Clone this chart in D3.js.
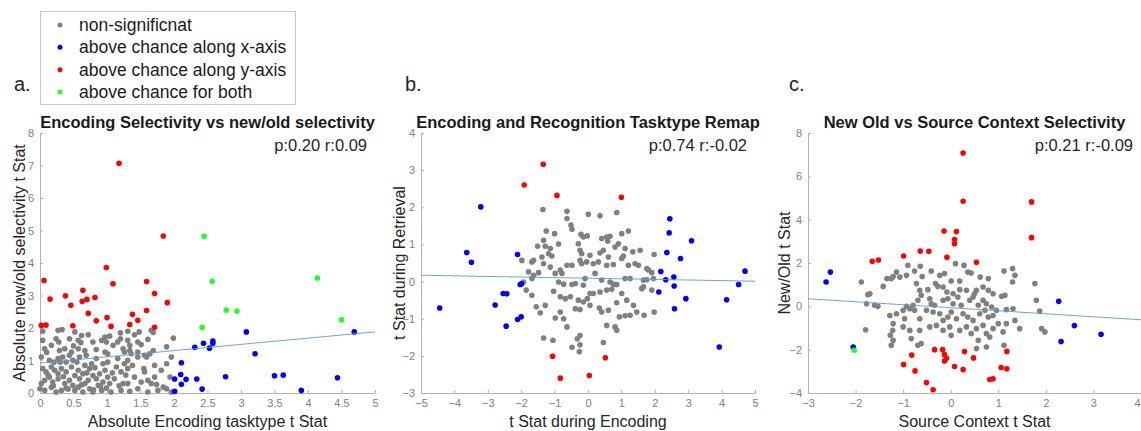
<!DOCTYPE html>
<html><head><meta charset="utf-8">
<script src="https://cdn.jsdelivr.net/npm/d3@7"></script>
<style>
body{margin:0;background:#fff;}
svg{display:block;font-family:"Liberation Sans",Arial,sans-serif;}
</style></head><body>
<svg id="chart" width="1141" height="431"></svg>
<script>
// ---------- DATA ----------
const legendLabels = ["non-significnat","above chance along x-axis","above chance along y-axis","above chance for both"];
const panelLetters = ["a.","b.","c."];
const titles = ["Encoding Selectivity vs new/old selectivity","Encoding and Recognition Tasktype Remap","New Old vs Source Context Selectivity"];
const statTexts = ["p:0.20 r:0.09","p:0.74 r:-0.02","p:0.21 r:-0.09"];
const xLabels = ["Absolute Encoding tasktype t Stat","t Stat during Encoding","Source Context t Stat"];
const yLabels = ["Absolute new/old selectivity t Stat","t Stat during Retrieval","New/Old t Stat"];
const xTicksA = [0,0.5,1,1.5,2,2.5,3,3.5,4,4.5,5];
const yTicksA = [0,1,2,3,4,5,6,7,8];
const xTicksB = [-5,-4,-3,-2,-1,0,1,2,3,4,5];
const yTicksB = [-3,-2,-1,0,1,2,3,4];
const xTicksC = [-3,-2,-1,0,1,2,3,4];
const yTicksC = [-4,-2,0,2,4,6,8];
// fitted line end points [x0,y0,x1,y1]
const fitA = [0,0.92,5,1.88];
const fitB = [-5,0.17,5,0.01];
const fitC = [-3,0.35,4,-0.62];

const aRed = [[1.18,7.07],[1.84,4.83],[0.99,3.86],[0.06,3.46],[1.09,3.36],[1.59,3.43],[0.38,2.99],[0.64,3.16],[0.15,2.89],[0.46,2.70],[0.63,2.82],[0.70,2.88],[0.82,2.94],[1.71,3.06],[1.90,2.78],[0.72,2.45],[1.59,2.54],[1.38,2.42],[0.84,2.22],[1.00,2.32],[1.46,2.24],[0.02,2.08],[0.09,2.09],[0.49,2.07],[1.06,2.05],[1.34,2.11],[1.71,2.02]];
const aGreen = [[2.45,4.82],[2.57,3.44],[4.14,3.54],[2.78,2.55],[2.94,2.52],[4.50,2.25],[2.42,2.02]];
const aBlue = [[4.69,1.88],[3.08,1.88],[2.44,1.53],[2.58,1.60],[2.58,1.53],[2.31,1.41],[2.53,1.38],[3.21,1.21],[2.11,0.93],[2.77,0.50],[3.50,0.53],[3.63,0.55],[4.44,0.47],[2.10,0.57],[2.01,0.43],[2.18,0.42],[2.34,0.43],[2.11,0.27],[2.42,0.12],[3.90,0.08],[2.01,0.05]];
const aGray = [[0.04,1.90],[0.27,1.93],[0.33,1.95],[0.52,1.88],[0.62,1.77],[0.72,1.79],[0.97,1.72],[1.04,1.75],[1.31,1.90],[1.41,1.79],[1.66,1.93],[1.69,1.86],[1.99,1.69],
[0.04,1.62],[0.24,1.67],[0.28,1.57],[0.44,1.67],[0.57,1.62],[0.61,1.55],[0.79,1.57],[0.92,1.62],[0.99,1.57],[1.16,1.57],[1.20,1.67],[1.31,1.62],[1.34,1.47],[1.46,1.57],[1.51,1.49],[1.61,1.65],[1.89,1.42],
[0.07,1.36],[0.17,1.47],[0.29,1.31],[0.37,1.36],[0.47,1.26],[0.57,1.36],[0.67,1.31],[0.69,1.16],[0.84,1.34],[0.97,1.26],[1.01,1.21],[1.09,1.47],[1.24,1.36],[1.26,1.26],[1.34,1.31],[1.36,1.21],[1.46,1.26],[1.56,1.16],[1.64,1.21],[1.69,1.31],[1.96,1.11],
[0.02,1.11],[0.14,1.01],[0.21,0.95],[0.27,1.06],[0.34,1.11],[0.39,0.95],[0.44,1.16],[0.49,1.01],[0.59,1.11],[0.67,0.85],[0.77,0.90],[0.84,1.06],[0.94,0.90],[1.01,0.95],[1.16,1.06],[1.26,0.90],[1.31,1.01],[1.46,1.11],[1.59,1.11],[1.71,0.85],[1.89,0.90],
[0.04,0.75],[0.09,0.65],[0.17,0.80],[0.22,0.70],[0.27,0.59],[0.32,0.75],[0.39,0.65],[0.47,0.80],[0.52,0.54],[0.57,0.70],[0.64,0.59],[0.74,0.75],[0.79,0.54],[0.89,0.59],[0.97,0.70],[1.01,0.49],[1.14,0.80],[1.21,0.65],[1.31,0.75],[1.41,0.49],[1.56,0.65],[1.71,0.49],[1.81,0.70],[1.94,0.49],
[0.02,0.29],[0.07,0.39],[0.14,0.49],[0.19,0.34],[0.27,0.44],[0.37,0.29],[0.44,0.39],[0.49,0.24],[0.59,0.44],[0.67,0.29],[0.72,0.39],[0.84,0.44],[0.87,0.24],[0.94,0.34],[1.04,0.29],[1.11,0.44],[1.24,0.29],[1.31,0.29],[1.51,0.34],[1.61,0.39],[1.66,0.29],[1.74,0.26],[1.84,0.18],
[0.00,0.13],[0.07,0.08],[0.17,0.18],[0.24,0.03],[0.32,0.08],[0.39,0.15],[0.52,0.08],[0.57,0.18],[0.64,0.03],[0.74,0.13],[0.79,0.03],[0.92,0.08],[0.99,0.15],[1.06,0.03],[1.21,0.08],[1.34,0.05],[1.46,0.13],[1.61,0.03],[1.76,0.08],[1.89,0.13],[1.96,0.03],
[0.12,0.55],[0.20,0.22],[0.30,0.95],[0.35,0.50],[0.42,0.12],[0.55,0.95],[0.62,0.25],[0.70,0.62],[0.82,0.78],[0.90,0.20],[1.08,0.62],[1.18,0.22],[1.28,0.55],[1.38,0.85],[1.55,0.75],[0.10,1.25],[0.50,1.45],[0.80,0.10],[1.20,1.85],[1.48,1.88]];

const bRed = [[-1.34,3.16],[-1.91,2.60],[-0.93,2.32],[1.00,2.27],[-1.06,-2.01],[0.52,-2.05],[-0.83,-2.60],[0.04,-2.53]];
const bGreen = [];
const bBlue = [[-3.21,2.01],[-3.63,0.78],[-3.49,0.52],[-4.44,-0.71],[-2.11,0.73],[-2.03,-0.08],[-1.99,-0.06],[-2.54,-0.32],[-2.43,-0.33],[-2.78,-0.63],[-2.11,-1.02],[-2.00,-0.95],[-2.45,-1.20],
[2.45,1.69],[2.43,1.31],[3.10,1.10],[2.36,0.78],[2.77,0.62],[2.18,0.27],[2.33,0.05],[2.57,0.12],[2.58,-0.12],[2.12,-0.28],[2.93,-0.46],[2.59,-0.73],[3.93,-1.76],[4.15,-0.49],[4.51,-0.08],[4.70,0.28]];
const bGray = [[-1.35,1.94],[-0.63,1.89],[-0.63,1.70],[0.01,1.81],[0.36,1.77],[0.86,1.86],[-0.51,1.52],[-0.48,1.41],
[-1.25,1.36],[-1.00,1.29],[-0.21,1.27],[-0.14,1.20],[-0.02,1.23],[0.41,1.16],[0.56,1.20],[0.66,1.22],[0.59,1.09],[0.91,1.02],[1.01,1.29],[1.21,1.36],
[-1.51,0.95],[-1.33,1.11],[-1.28,0.95],[-1.13,0.89],[-1.18,0.75],[-0.88,1.01],[-1.38,0.66],[-1.08,0.69],[-0.29,1.02],[-0.24,0.84],[-0.19,0.75],[0.06,0.71],[0.36,0.77],[0.46,0.84],[0.61,0.66],[0.81,0.93],[1.11,0.89],[1.34,0.80],[1.56,0.84],[1.98,0.73],
[-1.98,0.57],[-1.68,0.53],[-1.63,0.57],[-1.33,0.48],[-1.13,0.39],[-0.83,0.31],[-0.78,0.22],[-0.63,0.44],[-0.48,0.44],[-0.24,0.57],[-0.19,0.48],[-0.04,0.53],[0.16,0.48],[0.31,0.53],[0.56,0.44],[0.76,0.46],[1.01,0.62],[1.06,0.69],[1.21,0.44],[1.41,0.48],[1.51,0.44],[1.76,0.35],[1.81,0.31],[1.91,0.24],
[-1.78,0.26],[-1.63,0.17],[-1.68,0.08],[-1.48,0.24],[-0.98,0.22],[-0.88,-0.01],[-0.73,-0.07],[-0.48,-0.08],[-0.38,-0.05],[-0.14,-0.10],[-0.09,0.08],[0.21,0.22],[0.41,0.04],[0.66,-0.01],[0.76,-0.07],[0.86,-0.08],[1.11,0.08],[1.26,0.08],[1.66,0.04],[1.76,0.05],[1.96,0.08],
[-1.93,-0.01],[-1.85,-0.23],[-1.68,-0.37],[-1.28,-0.64],[-1.03,-0.26],[-0.83,-0.41],[-0.68,-0.46],[-0.53,-0.41],[-0.38,-0.73],[-0.24,-0.75],[-0.14,-0.55],[-0.02,-0.46],[0.06,-0.32],[0.16,-0.32],[0.36,-0.28],[0.56,-0.23],[0.71,-0.21],[0.86,-0.57],[1.01,-0.32],[1.16,-0.50],[1.36,-0.64],[1.61,-0.19],[1.66,-0.14],[1.91,-0.23],
[-1.55,-0.68],[-1.43,-0.84],[-0.98,-0.98],[-0.83,-0.82],[-0.73,-1.00],[-0.63,-1.22],[-0.29,-0.50],[0.06,-0.64],[0.34,-0.71],[0.41,-0.82],[0.61,-0.77],[0.56,-1.18],[0.81,-1.22],[0.86,-1.31],[0.94,-0.95],[1.11,-0.92],[1.26,-0.91],[1.46,-0.82],[1.68,-0.91],[1.98,-0.82],
[-1.33,-1.52],[-1.05,-1.58],[-0.48,-1.77],[-0.32,-1.54],[-0.24,-1.45],[-0.24,-1.70],[-0.26,-1.89],[0.46,-1.64]];

const cRed = [[0.26,7.08],[0.26,4.85],[1.70,4.82],[1.70,3.17],[-0.14,3.48],[0.12,3.45],[0.08,3.08],[0.08,2.89],[-0.64,2.55],[-0.46,2.54],[-0.99,2.32],[-0.08,2.26],[0.54,2.03],[-1.65,2.08],[-1.52,2.14],
[-0.17,-2.00],[-0.34,-2.00],[0.29,-2.09],[-0.82,-2.25],[-0.13,-2.23],[-0.09,-2.40],[-0.13,-2.52],[0.48,-2.38],[1.18,-2.08],[-0.99,-2.69],[0.08,-2.78],[0.26,-2.92],[-0.75,-2.98],[1.06,-2.82],[1.18,-2.88],[-0.51,-3.52],[-0.37,-3.85],[0.82,-3.38],[0.89,-3.34]];
const cGreen = [[-2.03,-2.03]];
const cBlue = [[-2.53,1.58],[-2.62,1.12],[-2.05,-1.88],[2.27,0.23],[2.60,-0.89],[2.32,-1.62],[3.16,-1.29]];
const cGray = [[-0.90,1.89],[-0.64,1.85],[0.10,1.97],[0.28,1.89],[-1.14,1.58],[-0.93,1.43],[-0.76,1.63],[-0.60,1.38],[-0.41,1.63],[-0.23,1.43],[-0.13,1.51],[0.01,1.17],[0.19,1.17],[0.36,1.58],[0.43,1.54],[0.62,1.35],[0.79,1.28],[1.12,1.63],[1.30,1.74],[1.35,1.43],[1.30,1.12],[1.77,1.05],[-1.88,1.12],
[-1.42,0.92],[-1.25,1.28],[-1.21,1.38],[-1.07,1.35],[-0.72,1.05],[-0.65,0.74],[-0.48,0.77],[-0.32,1.05],[-0.27,0.92],[-0.16,0.89],[-0.08,0.66],[0.05,0.58],[0.19,0.77],[0.33,0.74],[0.50,0.58],[0.54,0.74],[0.68,0.89],[0.79,0.74],[0.89,0.58],[1.07,0.46],[1.14,0.51],[-1.70,0.58],
[-1.77,0.12],[-1.60,0.05],[-1.53,0.00],[-0.93,0.00],[-0.86,-0.11],[-0.79,0.05],[-0.69,0.28],[-0.62,0.51],[-0.44,0.35],[-0.41,0.12],[-0.34,0.05],[-0.16,0.28],[-0.06,0.35],[0.05,0.12],[0.15,0.43],[0.22,0.05],[0.40,0.28],[0.47,0.43],[0.58,0.05],[0.68,0.28],[0.75,0.12],[0.86,-0.03],[0.96,-0.18],[1.17,-0.15],[1.31,-0.11],[1.80,0.28],[1.87,-0.22],
[-1.28,-0.42],[-1.21,-0.80],[-1.14,-0.34],[-1.00,-0.18],[-0.97,-0.57],[-0.76,-0.18],[-0.65,-0.57],[-0.51,-0.18],[-0.37,-0.26],[-0.23,-0.34],[-0.16,-0.65],[-0.06,-0.49],[0.01,-0.26],[0.12,-0.57],[0.26,-0.34],[0.36,-0.49],[0.47,-0.65],[0.61,-0.34],[0.72,-0.18],[0.79,-0.49],[0.89,-0.42],[1.00,-0.80],[1.17,-0.80],[1.35,-0.65],[1.45,-1.03],[1.91,-1.03],[1.98,-1.18],
[-1.79,-1.08],[-1.21,-1.57],[-1.25,-1.80],[-1.00,-0.95],[-0.86,-1.11],[-0.83,-1.49],[-0.65,-1.11],[-0.69,-1.80],[-0.62,-1.72],[-0.44,-0.95],[-0.30,-0.88],[-0.16,-1.11],[-0.02,-0.95],[0.01,-1.34],[0.19,-1.11],[0.33,-0.95],[0.43,-1.26],[0.54,-1.03],[0.58,-1.57],[0.68,-0.88],[0.75,-1.26],[0.82,-1.42],[0.89,-1.03],[1.10,-1.18],[1.12,-1.80],[0.54,-1.95],[0.75,-1.88],
[-1.74,0.54],[-1.34,1.28],[-1.27,-1.34],[-1.22,-1.11]];

// ---------- STYLE / LAYOUT ----------
const COL = {gray:"#808080", blue:"#0000ff", red:"#ff0000", green:"#22ff22", fit:"#5a9fd6"};
const R = 2.8;
const svg = d3.select("#chart");
const font = "'Liberation Sans',Arial,sans-serif";

const panels = [
  {x0:40, x1:375, y0:133, y1:393, xd:[0,5], yd:[0,8], xt:xTicksA, yt:yTicksA, fit:fitA,
   gray:aGray, blue:aBlue, red:aRed, green:aGreen, ylx:19},
  {x0:421, x1:755, y0:133, y1:393, xd:[-5,5], yd:[-3,4], xt:xTicksB, yt:yTicksB, fit:fitB,
   gray:bGray, blue:bBlue, red:bRed, green:bGreen, ylx:399},
  {x0:808, x1:1141, y0:133, y1:393, xd:[-3,4], yd:[-4,8], xt:xTicksC, yt:yTicksC, fit:fitC,
   gray:cGray, blue:cBlue, red:cRed, green:cGreen, ylx:784}
];
const letterX = [14, 405, 789];

panels.forEach((p,i)=>{
  const x = d3.scaleLinear().domain(p.xd).range([p.x0,p.x1]);
  const y = d3.scaleLinear().domain(p.yd).range([p.y1,p.y0]);
  const g = svg.append("g");

  const xa = g.append("g").attr("transform",`translate(0,${p.y1})`)
    .call(d3.axisBottom(x).tickValues(p.xt).tickSizeInner(-3).tickSizeOuter(0).tickPadding(6).tickFormat(d3.format("~g")));
  const ya = g.append("g").attr("transform",`translate(${p.x0},0)`)
    .call(d3.axisLeft(y).tickValues(p.yt).tickSizeInner(-3).tickSizeOuter(0).tickPadding(6).tickFormat(d3.format("~g")));
  [xa,ya].forEach(a=>{
    a.select(".domain").attr("stroke","#b3b3b3");
    a.selectAll(".tick line").attr("stroke","#b3b3b3");
    a.selectAll(".tick text").attr("fill","#808080").style("font-size","11px").style("font-family",font);
  });
  // keep a tick label that would run past the page edge inside it
  xa.selectAll(".tick text").filter(d=>x(d)>1134).attr("text-anchor","end").attr("dx","-1");

  const dots = (arr,c)=> g.append("g").selectAll("circle").data(arr).join("circle")
      .attr("cx",d=>x(d[0])).attr("cy",d=>y(d[1])).attr("r",R).attr("fill",c);
  dots(p.gray,COL.gray); dots(p.blue,COL.blue); dots(p.red,COL.red); dots(p.green,COL.green);

  g.append("line").attr("x1",x(p.fit[0])).attr("y1",y(p.fit[1])).attr("x2",x(p.fit[2])).attr("y2",y(p.fit[3]))
    .attr("stroke",COL.fit).attr("stroke-width",1).attr("opacity",0.9);

  const cx = (p.x0+p.x1)/2;
  g.append("text").attr("x",cx).attr("y",128).attr("text-anchor","middle")
    .style("font-size","16.5px").style("font-weight","bold").attr("fill","#1a1a1a").text(titles[i]);
  g.append("text").attr("x",Math.min(p.x1-8,1140)).attr("y",151).attr("text-anchor","end")
    .style("font-size","16.5px").attr("fill","#262626").text(statTexts[i]);
  g.append("text").attr("x",cx).attr("y",427).attr("text-anchor","middle")
    .style("font-size","16px").attr("fill","#262626").text(xLabels[i]);
  g.append("text").attr("transform",`translate(${p.ylx},${(p.y0+p.y1)/2}) rotate(-90)`)
    .attr("text-anchor","middle").attr("dy","0.35em")
    .style("font-size","16px").attr("fill","#262626").text(yLabels[i]);
  svg.append("text").attr("x",letterX[i]).attr("y",91).style("font-size","20px").attr("fill","#262626").text(panelLetters[i]);
});

// legend
const lg = svg.append("g");
lg.append("rect").attr("x",40.5).attr("y",11.5).attr("width",255).attr("height",93)
  .attr("fill","#fff").attr("stroke","#c8c8c8");
const legCols = [COL.gray,COL.blue,COL.red,COL.green];
const legY = d3.scalePoint().domain(legendLabels).range([25,92]);
legendLabels.forEach((t,i)=>{
  lg.append("circle").attr("cx",60).attr("cy",legY(t)).attr("r",2.5).attr("fill",legCols[i]);
  lg.append("text").attr("x",79).attr("y",legY(t)).attr("dy","0.35em").style("font-size","17.5px").attr("fill","#1a1a1a").text(t);
});
</script>
</body></html>
